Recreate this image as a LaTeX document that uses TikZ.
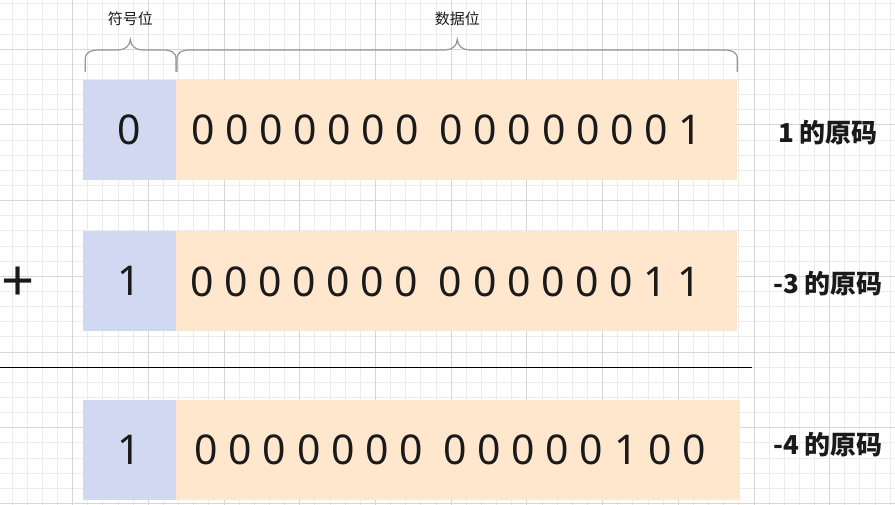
\documentclass[tikz,border=0pt]{standalone}
\usepackage{fontspec}
\newfontfamily\digitfont{Noto Sans}
\newfontfamily\cjkfont{Noto Sans CJK SC}
\definecolor{minorgrid}{RGB}{236,236,236}
\definecolor{majorgrid}{RGB}{214,214,214}
\definecolor{signblue}{RGB}{209,217,242}
\definecolor{dataorange}{RGB}{255,231,206}
\definecolor{ink}{RGB}{26,26,26}
\definecolor{bracegray}{RGB}{150,150,150}
\tikzset{
  minorline/.style={draw=minorgrid, line width=1pt},
  majorline/.style={draw=majorgrid, line width=1pt},
  signbox/.style={fill=signblue, minimum width=93pt, minimum height=100pt, inner sep=0pt, anchor=north west, text=ink, font=\digitfont\fontsize{41}{41}\selectfont},
  databox/.style={fill=dataorange, minimum height=100pt, inner sep=0pt, anchor=north west},
  bits/.style={inner sep=0pt, anchor=west, text=ink, font=\digitfont\fontsize{41}{41}\selectfont},
  rowlabel/.style={inner sep=0pt, text=ink, font=\cjkfont\bfseries\fontsize{26}{26}\selectfont},
  bracelabel/.style={inner sep=0pt, text=ink, font=\cjkfont\fontsize{15}{15}\selectfont},
  bracepath/.style={draw=bracegray, line width=1.2pt},
  sepline/.style={draw=black, line width=1pt},
  plussign/.style={inner sep=0pt, text=ink, font=\digitfont\fontsize{58}{58}\selectfont}
}
\newcommand\bitgap{\hspace{10pt}}
\begin{document}
\begin{tikzpicture}[x=1pt,y=-1pt]
\useasboundingbox (0,0) rectangle (895,505);
\fill[white] (0,0) rectangle (895,505);
% grid
\foreach \i in {0,...,58} {
  \pgfmathsetmacro\xx{12.14+15.14*\i}
  \draw[minorline] (\xx,0) -- (\xx,505);
}
\foreach \j in {0,...,33} {
  \pgfmathsetmacro\yy{3.88+15.14*\j}
  \draw[minorline] (0,\yy) -- (895,\yy);
}
\foreach \i in {0,...,12} {
  \pgfmathsetmacro\xx{-3.0+75.7*\i}
  \draw[majorline] (\xx,0) -- (\xx,505);
}
\foreach \j in {0,...,6} {
  \pgfmathsetmacro\yy{49.3+75.7*\j}
  \draw[majorline] (0,\yy) -- (895,\yy);
}
% row 1
\node[signbox] (s1) at (83,80) {0};
\node[databox, minimum width=561pt] (d1) at (176,80) {};
\node[bits] (t1) at (190.8,130.3) {0 0 0 0 0 0 0\bitgap{} 0 0 0 0 0 0 0 1};
\node[rowlabel] (l1) at (828,133) {1 的原码};
% row 2
\node[signbox] (s2) at (83,231) {1};
\node[databox, minimum width=561pt] (d2) at (176,231) {};
\node[bits] (t2) at (190,282) {0 0 0 0 0 0 0\bitgap{} 0 0 0 0 0 0 1 1};
\node[rowlabel] (l2) at (828,284) {-3 的原码};
\node[plussign] (plus) at (17.8,284.7) {+};
% separator
\coordinate (sepL) at (0,367);
\coordinate (sepR) at (752,367);
\draw[sepline] (sepL) -- (sepR);
% row 3
\node[signbox] (s3) at (83,399.5) {1};
\node[databox, minimum width=564pt] (d3) at (176,399.5) {};
\node[bits] (t3) at (194.5,450) {0 0 0 0 0 0 0\bitgap{} 0 0 0 0 0 1 0 0};
\node[rowlabel] (l3) at (828,445) {-4 的原码};
% braces
\draw[bracepath] (85.3,72) -- (85.3,59) .. controls (85.3,52) and (91,50) .. (99,50)
  -- (118,50) .. controls (125,50) and (130,46) .. (130.3,39.3)
  .. controls (130.6,46) and (135.6,50) .. (142.6,50)
  -- (163,50) .. controls (171,50) and (176,52) .. (176,59) -- (176,72);
\draw[bracepath] (177,72) -- (177,59) .. controls (177,52) and (182,50) .. (190,50)
  -- (445,50) .. controls (452,50) and (457,46) .. (457.3,39.3)
  .. controls (457.6,46) and (462.6,50) .. (469.6,50)
  -- (724,50) .. controls (732,50) and (737.3,52) .. (737.3,59) -- (737.3,72);
\node[bracelabel] (bsign) at (130.3,18.7) {符号位};
\node[bracelabel] (bdata) at (457.3,18.7) {数据位};
\end{tikzpicture}
\end{document}
